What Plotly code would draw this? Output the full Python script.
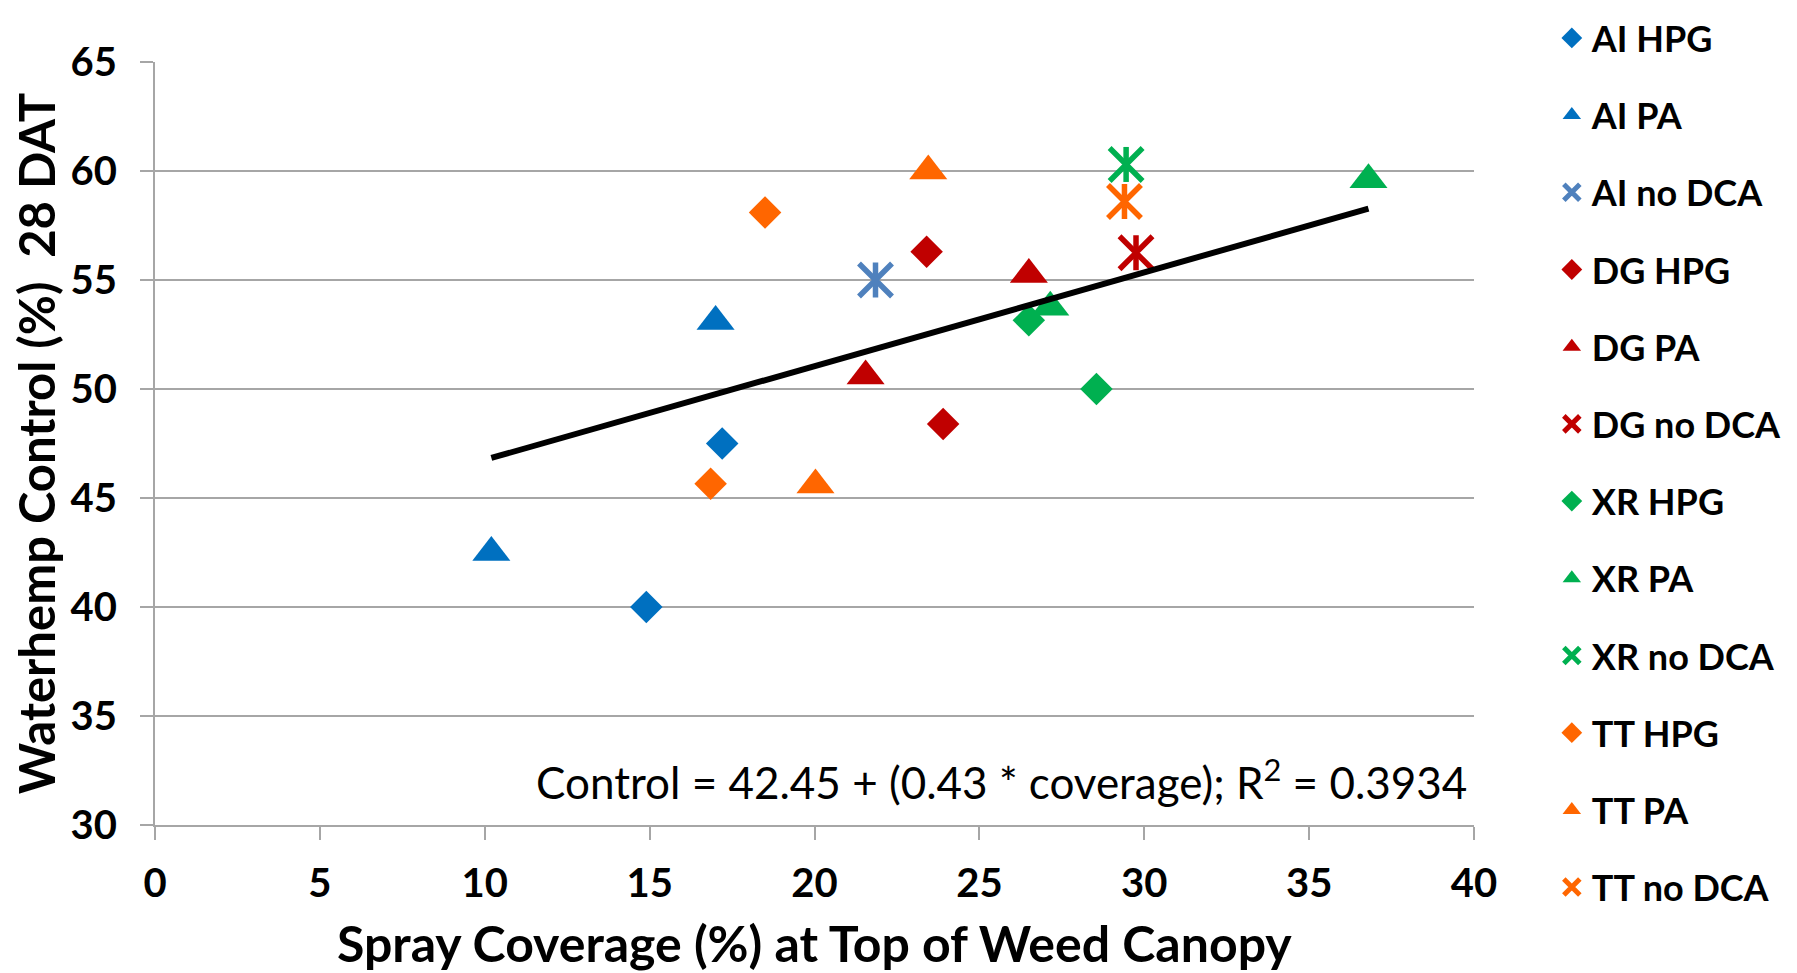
import plotly.graph_objects as go

# ---- data ----
ai_hpg_x = [17.2, 14.9]
ai_hpg_y = [47.5, 40.0]
ai_pa_x = [17.0, 10.2]
ai_pa_y = [53.1, 42.5]
ai_nodca_x = [21.85]
ai_nodca_y = [55.0]
dg_hpg_x = [23.4, 23.9]
dg_hpg_y = [56.3, 48.4]
dg_pa_x = [26.5, 21.55]
dg_pa_y = [55.25, 50.6]
dg_nodca_x = [29.75]
dg_nodca_y = [56.25]
xr_hpg_x = [26.5, 28.55]
xr_hpg_y = [53.15, 50.0]
xr_pa_x = [27.15, 36.8]
xr_pa_y = [53.75, 59.6]
xr_nodca_x = [29.45]
xr_nodca_y = [60.3]
tt_hpg_x = [18.5, 16.85]
tt_hpg_y = [58.1, 45.65]
tt_pa_x = [23.45, 20.03]
tt_pa_y = [60.0, 45.6]
tt_nodca_x = [29.4]
tt_nodca_y = [58.6]

trend_intercept = 42.45
trend_slope = 0.43
r_squared = 0.3934

x_ticks = [0, 5, 10, 15, 20, 25, 30, 35, 40]
y_ticks = [30, 35, 40, 45, 50, 55, 60, 65]

BLUE = "#0070C0"
STEEL = "#4F81BD"
RED = "#C00000"
GREEN = "#00B050"
ORANGE = "#FF6600"

series = [
    ("AI HPG", ai_hpg_x, ai_hpg_y, BLUE, "diamond"),
    ("AI PA", ai_pa_x, ai_pa_y, BLUE, "triangle"),
    ("AI no DCA", ai_nodca_x, ai_nodca_y, STEEL, "star"),
    ("DG HPG", dg_hpg_x, dg_hpg_y, RED, "diamond"),
    ("DG PA", dg_pa_x, dg_pa_y, RED, "triangle"),
    ("DG no DCA", dg_nodca_x, dg_nodca_y, RED, "star"),
    ("XR HPG", xr_hpg_x, xr_hpg_y, GREEN, "diamond"),
    ("XR PA", xr_pa_x, xr_pa_y, GREEN, "triangle"),
    ("XR no DCA", xr_nodca_x, xr_nodca_y, GREEN, "star"),
    ("TT HPG", tt_hpg_x, tt_hpg_y, ORANGE, "diamond"),
    ("TT PA", tt_pa_x, tt_pa_y, ORANGE, "triangle"),
    ("TT no DCA", tt_nodca_x, tt_nodca_y, ORANGE, "star"),
]

FONT = "Lato"
fig = go.Figure()

for name, xs, ys, col, kind in series:
    if kind == "diamond":
        fig.add_trace(go.Scatter(x=xs, y=ys, mode="markers", name=name, legendgroup=name,
                                 marker=dict(symbol="diamond", size=25, color=col, line=dict(width=0))))
    elif kind == "triangle":
        fig.add_trace(go.Scatter(x=xs, y=ys, mode="markers", name=name, legendgroup=name,
                                 marker=dict(symbol="triangle-up", size=33, color=col, line=dict(width=0))))
    else:
        fig.add_trace(go.Scatter(x=xs, y=ys, mode="markers", name=name, legendgroup=name,
                                 marker=dict(symbol="x-thin-open", size=33, color=col,
                                             line=dict(width=5.5, color=col))))
        fig.add_trace(go.Scatter(x=xs, y=ys, mode="markers", name=name, legendgroup=name,
                                 showlegend=False, hoverinfo="skip",
                                 marker=dict(symbol="line-ns-open", size=25, color=col,
                                             line=dict(width=5.5, color=col))))

all_x = [v for s in series for v in s[1]]
tx = [min(all_x), max(all_x)]
ty = [trend_intercept + trend_slope * v for v in tx]
fig.add_trace(go.Scatter(x=tx, y=ty, mode="lines", showlegend=False, hoverinfo="skip",
                         line=dict(color="black", width=6)))

GRID = "#A6A6A6"
fig.update_xaxes(range=[0, 40], tickvals=x_ticks, ticktext=[str(v) for v in x_ticks],
                 automargin=False,
                 showgrid=False, zeroline=False, showline=True, linecolor=GRID, linewidth=2,
                 ticks="outside", ticklen=13, tickwidth=2, tickcolor=GRID,
                 ticklabelstandoff=9,
                 tickfont=dict(family=FONT, size=40, color="black", weight="bold"))
fig.update_yaxes(range=[30, 65], tickvals=y_ticks, ticktext=[str(v) for v in y_ticks],
                 automargin=False,
                 showgrid=True, gridcolor=GRID, gridwidth=2, zeroline=False,
                 showline=True, linecolor=GRID, linewidth=2,
                 ticks="outside", ticklen=13, tickwidth=2, tickcolor=GRID,
                 ticklabelstandoff=15,
                 tickfont=dict(family=FONT, size=40, color="black", weight="bold"))

fig.add_annotation(text="Spray Coverage (%) at Top of Weed Canopy", xref="paper", yref="paper",
                   x=0.5, y=-0.155, xanchor="center", yanchor="middle", showarrow=False,
                   font=dict(family=FONT, size=50, color="black", weight="bold"))
fig.add_annotation(text="Waterhemp Control (%)  28 DAT", xref="paper", yref="paper",
                   x=-0.0905, y=0.5, xanchor="center", yanchor="middle", showarrow=False,
                   textangle=-90,
                   font=dict(family=FONT, size=49, color="black", weight="bold"))
fig.add_annotation(text=f"Control = {trend_intercept} + ({trend_slope} * coverage); R<sup>2</sup> = {r_squared}",
                   xref="paper", yref="paper", x=0.9965, y=0.0597, xanchor="right", yanchor="middle",
                   showarrow=False, font=dict(family=FONT, size=44, color="black"))

# the page body adds an 8px offset, so the figure is drawn 8px smaller on each axis
fig.update_layout(
    template="none",
    width=1789, height=965,
    margin=dict(l=147, r=323, t=54, b=148, autoexpand=False),
    paper_bgcolor="white", plot_bgcolor="white",
    showlegend=True,
    legend=dict(x=1.059, y=1.0708, xanchor="left", yanchor="top",
                font=dict(family=FONT, size=36, color="black", weight="bold"),
                tracegroupgap=27.4, itemsizing="trace", bgcolor="rgba(0,0,0,0)",
                borderwidth=0, maxheight=1000),
)

fig.write_html("out.html")
